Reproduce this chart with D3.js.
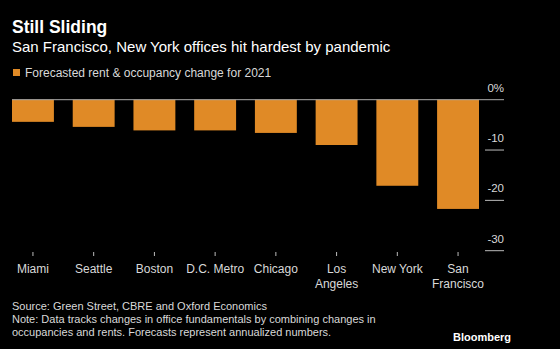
<!DOCTYPE html>
<html lang="en">
<head>
<meta charset="utf-8"/>
<title>Still Sliding</title>
<script src="https://cdnjs.cloudflare.com/ajax/libs/d3/7.8.5/d3.min.js"></script>
<style>
  body { margin: 0; background: #000; }
  svg { display: block; font-family: "Liberation Sans", Arial, sans-serif; }
  text { fill: #d9d9d9; }
</style>
</head>
<body>
<div id="chart"></div>
<script>
// data
var cities = ["Miami", "Seattle", "Boston", "D.C. Metro", "Chicago", "Los Angeles", "New York", "San Francisco"];
var cityLines = [["Miami"], ["Seattle"], ["Boston"], ["D.C. Metro"], ["Chicago"], ["Los", "Angeles"], ["New York"], ["San", "Francisco"]];
var change2021 = [-4.4, -5.4, -6.1, -6.1, -6.6, -9.0, -17.1, -21.7];
var yTicks = [0, -10, -20, -30];

var W = 560, H = 349;
var svg = d3.select("#chart").append("svg").attr("width", W).attr("height", H);
svg.append("rect").attr("width", W).attr("height", H).attr("fill", "#000");

// titles
svg.append("text").attr("x", 12).attr("y", 33)
  .style("font-size", "17.5px").style("font-weight", "bold").style("fill", "#fff")
  .text("Still Sliding");
svg.append("text").attr("x", 12).attr("y", 52)
  .style("font-size", "15px").style("fill", "#fff")
  .text("San Francisco, New York offices hit hardest by pandemic");

// legend
svg.append("rect").attr("x", 13).attr("y", 69).attr("width", 7).attr("height", 7).attr("fill", "#e08a26");
svg.append("text").attr("x", 25).attr("y", 77).style("font-size", "12px")
  .text("Forecasted rent & occupancy change for 2021");

var x = d3.scaleBand().domain(cities).range([12, 479]).paddingInner(0.31).paddingOuter(0);
var y = d3.scaleLinear().domain([0, -30]).range([99.7, 250.7]);

// gridline stubs at right
var g = svg.append("g");
yTicks.forEach(function(t) {
  if (t === 0) return;
  g.append("line").attr("x1", 485).attr("x2", 504)
    .attr("y1", y(t)).attr("y2", y(t))
    .attr("stroke", "#bbb").attr("stroke-width", 1);
});
g.selectAll("text.ytick").data(yTicks).enter().append("text")
  .attr("class", "ytick")
  .attr("x", 504).attr("y", function(d) { return y(d) - 8; })
  .attr("text-anchor", "end").style("font-size", "11.5px")
  .text(function(d) { return d === 0 ? "0%" : "-" + Math.abs(d); });

// bars
svg.selectAll("rect.bar").data(change2021).enter().append("rect")
  .attr("class", "bar")
  .attr("x", function(d, i) { return x(cities[i]); })
  .attr("width", x.bandwidth())
  .attr("y", y(0))
  .attr("height", function(d) { return y(d) - y(0); })
  .attr("fill", "#e08a26");

// zero line
svg.append("line").attr("x1", 12).attr("x2", 504).attr("y1", y(0)).attr("y2", y(0))
  .attr("stroke", "#aaa").attr("stroke-width", 1);

// x ticks and labels
cities.forEach(function(c, i) {
  var cx = x(c) + x.bandwidth() / 2;
  svg.append("line").attr("x1", cx).attr("x2", cx).attr("y1", 252).attr("y2", 256)
    .attr("stroke", "#bbb").attr("stroke-width", 1);
  var t = svg.append("text").attr("x", cx).attr("y", 273).attr("text-anchor", "middle")
    .style("font-size", "12px");
  cityLines[i].forEach(function(l, j) {
    t.append("tspan").attr("x", cx).attr("dy", j === 0 ? 0 : 15).text(l);
  });
});

// footer
var foot = ["Source: Green Street, CBRE and Oxford Economics",
  "Note: Data tracks changes in office fundamentals by combining changes in",
  "occupancies and rents. Forecasts represent annualized numbers."];
foot.forEach(function(f, i) {
  svg.append("text").attr("x", 12).attr("y", 310 + i * 13).style("font-size", "11px").text(f);
});
svg.append("text").attr("x", 511).attr("y", 341).attr("text-anchor", "end")
  .style("font-size", "11px").style("font-weight", "bold").style("fill", "#fff")
  .text("Bloomberg");
</script>
</body>
</html>
